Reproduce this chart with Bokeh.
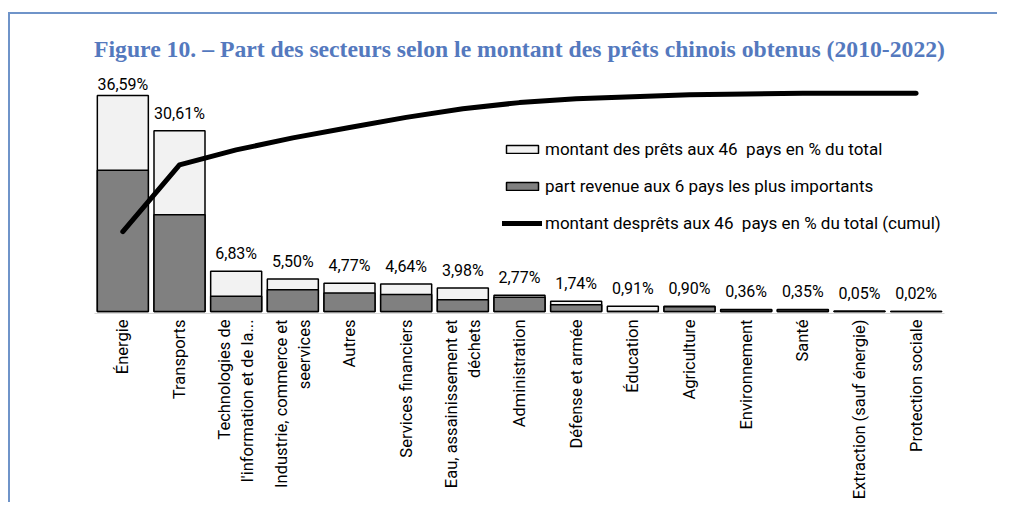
import math
from bokeh.plotting import figure
from bokeh.models import ColumnDataSource, Range1d, Legend, LegendItem, LabelSet, FactorRange
from bokeh.core.properties import value
from bokeh.embed import file_html
from bokeh.resources import INLINE

# ---- data ----
categories = [
    "Énergie",
    "Transports",
    "Technologies de\nl'information et de la...",
    "Industrie, commerce et\nseervices",
    "Autres",
    "Services financiers",
    "Eau, assainissement et\ndéchets",
    "Administration",
    "Défense et armée",
    "Éducation",
    "Agriculture",
    "Environnement",
    "Santé",
    "Extraction (sauf énergie)",
    "Protection sociale",
]
total_share = [36.59, 30.61, 6.83, 5.50, 4.77, 4.64, 3.98, 2.77, 1.74, 0.91, 0.90, 0.36, 0.35, 0.05, 0.02]
top6_share = [23.9, 16.4, 2.6, 3.7, 3.15, 2.87, 2.0, 2.4, 1.13, 0.0, 0.80, 0.30, 0.30, 0.04, 0.02]
cumulative = [36.59, 67.20, 74.03, 79.53, 84.30, 88.94, 92.92, 95.69, 97.43, 98.34, 99.24, 99.60, 99.95, 100.00, 100.02]
value_labels = ["36,59%", "30,61%", "6,83%", "5,50%", "4,77%", "4,64%", "3,98%", "2,77%",
                "1,74%", "0,91%", "0,90%", "0,36%", "0,35%", "0,05%", "0,02%"]

series_names = [
    "montant des prêts aux 46  pays en % du total",
    "part revenue aux 6 pays les plus importants",
    "montant desprêts aux 46  pays en % du total (cumul)",
]
title_text = "Figure 10. – Part des secteurs selon le montant des prêts chinois obtenus (2010-2022)"

# ---- styling ----
FONT = "Roboto"
FRAME_BLUE = "#6f94c9"
label_offsets = [5] + [12] * (len(categories) - 1)

# visually centre the shorter line of two-line axis labels (axis right-aligns them)
NB = "\u00a0"
def centred(label):
    if "\n" not in label:
        return label
    a, b = label.split("\n")
    diff = len(a) - len(b)
    pad = NB * int(round(abs(diff) * 0.55))
    if diff > 0:
        b = b + pad
    else:
        a = a + pad
    return a + "\n" + b

src = ColumnDataSource(dict(
    cat=categories, total=total_share, top6=top6_share, cum=cumulative,
    lab=value_labels, yoff=label_offsets,
))

p = figure(
    x_range=FactorRange(*categories),
    y_range=Range1d(-0.337, 40.81),
    width=997, height=502,
    output_backend="svg", toolbar_location=None,
    min_border_left=94, min_border_right=53, min_border_top=70, min_border_bottom=188,
)
p.extra_y_ranges = {"cum": Range1d(-0.912, 110.4)}
p.border_fill_alpha = 0
p.background_fill_alpha = 0
p.styles = {
    "background-color": "white",
    "background-image": f"linear-gradient({FRAME_BLUE}, {FRAME_BLUE}), linear-gradient({FRAME_BLUE}, {FRAME_BLUE})",
    "background-size": "100% 2px, 2px 100%",
    "background-position": "8px 12px, 8px 12px",
    "background-repeat": "no-repeat",
}

p.title.text = title_text
p.title.align = "center"
p.title.text_font = "Liberation Serif"
p.title.text_font_style = "bold"
p.title.text_font_size = "23.7px"
p.title.text_color = "#5479be"
p.title.standoff = 17

light = p.vbar(x="cat", top="total", width=0.9, source=src,
               fill_color="#f2f2f2", line_color="black", line_width=1.5)
dark = p.vbar(x="cat", top="top6", width=0.9, source=src,
              fill_color="#808080", line_color="black", line_width=1.5)
cum_line = p.line(x="cat", y="cum", source=src, y_range_name="cum",
                  line_width=5, line_color="black", line_cap="round", line_join="round")

labels = LabelSet(x="cat", y="total", text="lab", source=src, y_offset="yoff",
                  text_align="center", text_baseline="alphabetic",
                  text_font=value(FONT), text_font_size=value("16px"), text_color="black")
p.add_layout(labels)

legend = Legend(items=[
    LegendItem(label=series_names[0], renderers=[light]),
    LegendItem(label=series_names[1], renderers=[dark]),
    LegendItem(label=series_names[2], renderers=[cum_line]),
], location=(408, 80))
legend.padding = 0
legend.margin = 0
legend.border_line_color = None
legend.background_fill_alpha = 0
legend.glyph_width = 40
legend.glyph_height = 10
legend.label_height = 20
legend.spacing = 17
legend.label_standoff = 3
legend.label_text_font = FONT
legend.label_text_font_size = "17px"
legend.label_text_color = "black"
p.add_layout(legend)

p.xaxis.major_label_orientation = math.pi / 2
p.xaxis.major_label_overrides = {c: centred(c) for c in categories if "\n" in c}
p.xaxis.major_label_text_font = FONT
p.xaxis.major_label_text_font_size = "16.5px"
p.xaxis.major_label_text_color = "black"
p.xaxis.axis_line_color = "#d9d9d9"
p.xaxis.major_tick_line_color = None
p.xaxis.minor_tick_line_color = None
p.xaxis.major_tick_out = 0
p.xaxis.major_tick_in = 0
p.xaxis.major_label_standoff = 6
p.yaxis.visible = False
p.xgrid.visible = False
p.ygrid.visible = False
p.outline_line_color = None

open("out.html", "w").write(file_html(p, INLINE))
